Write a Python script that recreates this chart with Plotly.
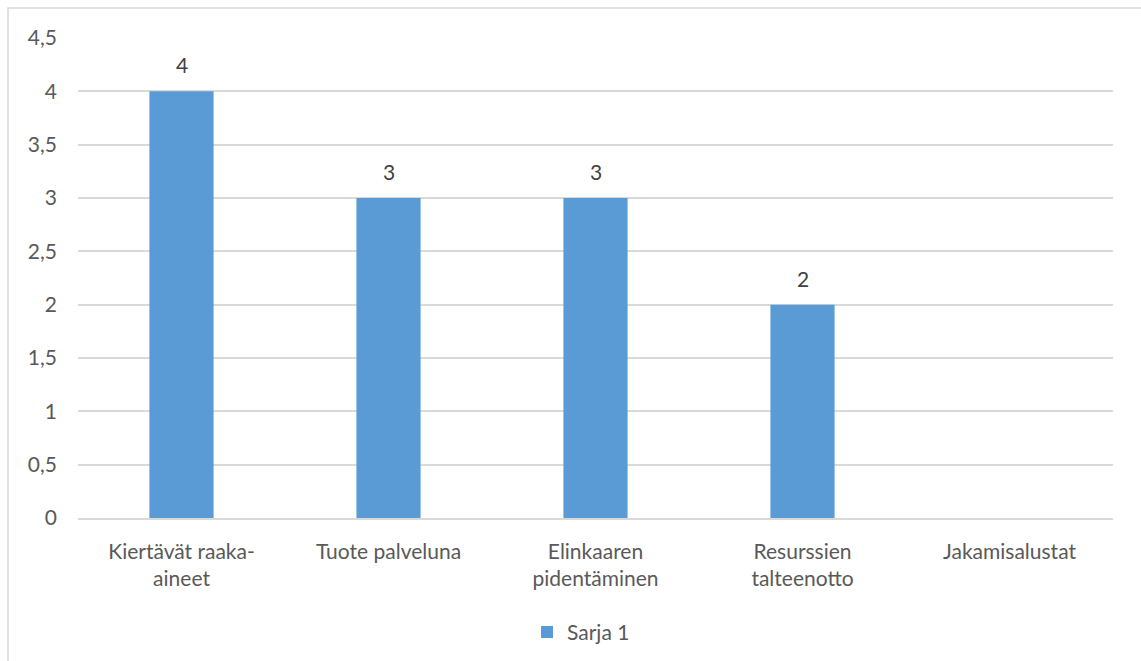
import plotly.graph_objects as go

categories = ["Kiertävät raaka-<br>aineet", "Tuote palveluna", "Elinkaaren<br>pidentäminen", "Resurssien<br>talteenotto", "Jakamisalustat"]
values = [4, 3, 3, 2, 0]
series_name = "Sarja 1"
labels = [str(v) if v else "" for v in values]

font = "Lato, 'Open Sans', sans-serif"
fs = 21

fig = go.Figure()
fig.add_trace(go.Bar(
    x=categories, y=values, name=series_name,
    marker=dict(color="#5B9BD5", line=dict(width=0)),
))

for c, v, t in zip(categories, values, labels):
    if t:
        fig.add_annotation(x=c, y=v, text=t, showarrow=False, yanchor="bottom", yshift=12,
                           font=dict(size=fs, color="#404040", family=font))

fig.update_layout(
    width=1141, height=661,
    margin=dict(l=78, r=28, t=38, b=143, autoexpand=False),
    paper_bgcolor="white", plot_bgcolor="white",
    font=dict(family=font, size=fs, color="#595959"),
    separators=", ",
    bargap=0.69,
    showlegend=True,
    legend=dict(orientation="h", x=0.486, xanchor="center", y=-0.238, yanchor="middle",
                font=dict(size=fs, color="#595959")),
    xaxis=dict(showgrid=False, showline=True, linecolor="#D9D9D9", linewidth=1.5,
               automargin=False,
               ticks="", ticklabelstandoff=14, tickfont=dict(size=fs, color="#595959")),
    yaxis=dict(range=[0, 4.5], dtick=0.5, tick0=0, showgrid=True, gridcolor="#D9D9D9",
               automargin=False,
               gridwidth=1.5, zeroline=False, showline=False, ticks="",
               ticklabelstandoff=20, tickfont=dict(size=fs, color="#595959")),
    shapes=[dict(type="rect", xref="paper", yref="paper",
                 x0=-0.0676, x1=1.06, y0=-0.32, y1=1.0625,
                 line=dict(color="#D9D9D9", width=1.5), fillcolor="rgba(0,0,0,0)", layer="below")],
)

fig.write_html("out.html")
